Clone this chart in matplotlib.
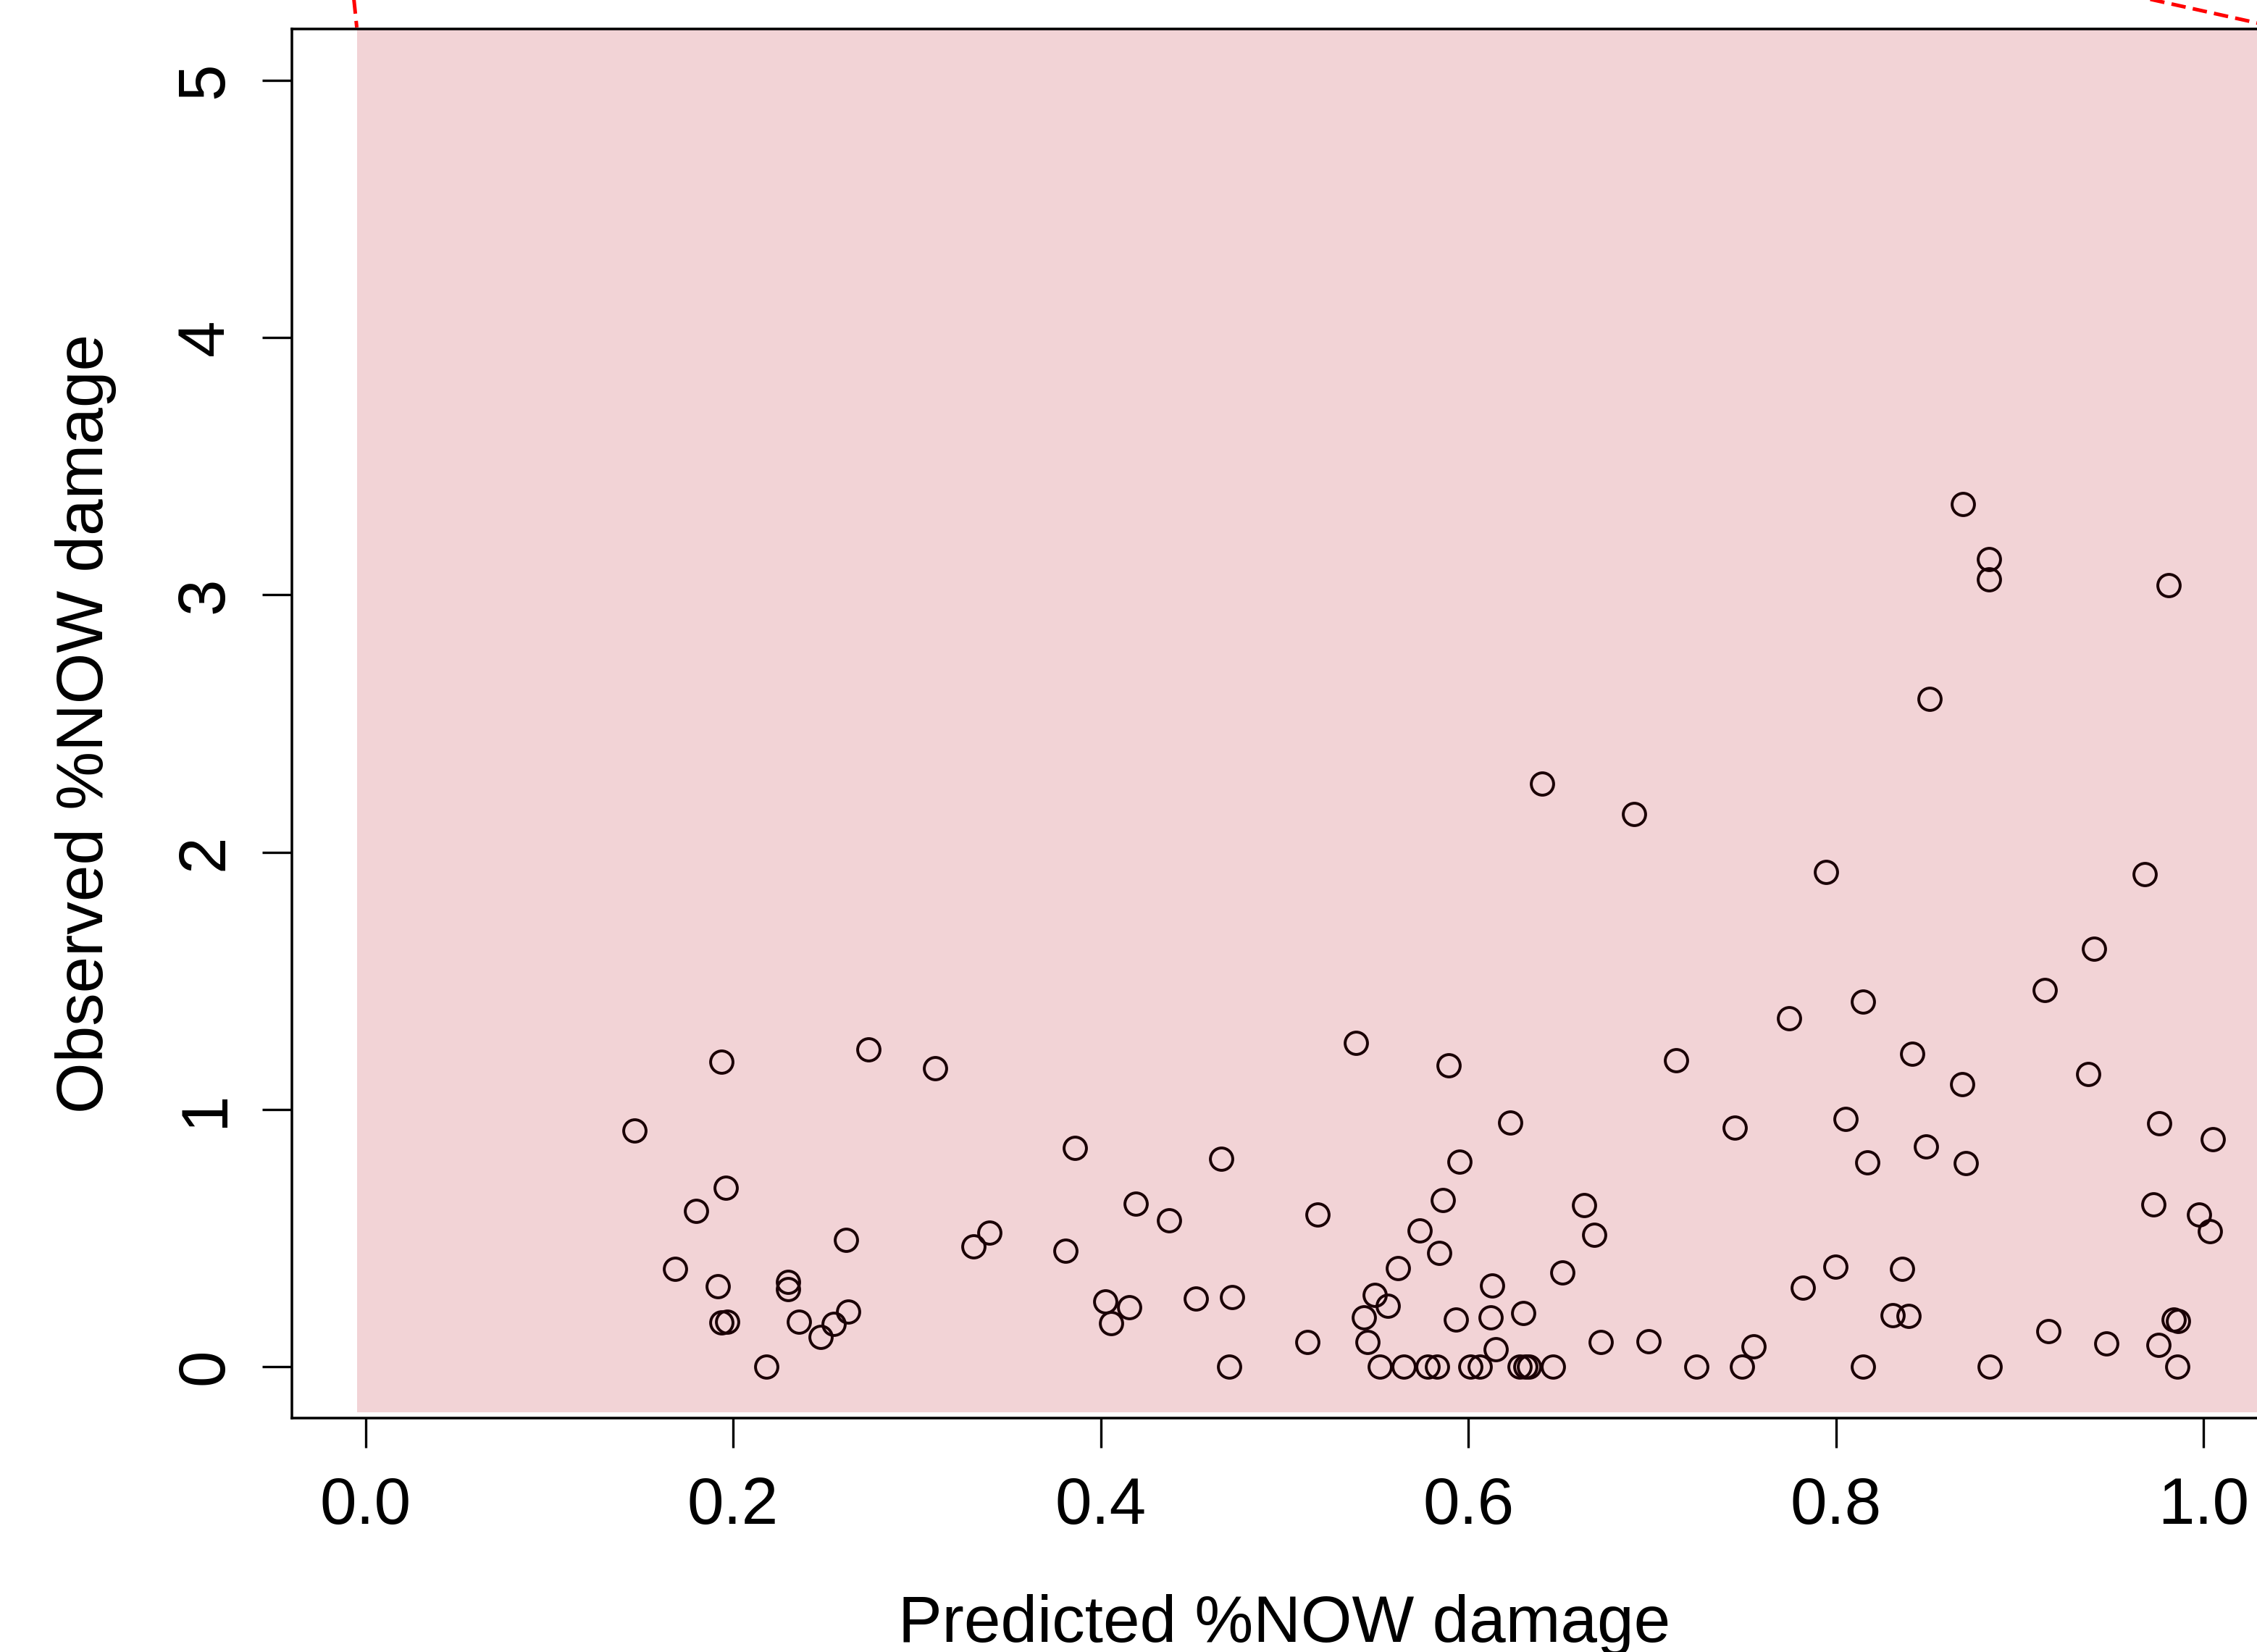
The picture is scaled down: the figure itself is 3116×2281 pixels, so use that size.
import numpy as np
import matplotlib
matplotlib.use("Agg")
import matplotlib.pyplot as plt

plt.rcParams['font.family'] = ['Liberation Sans', 'DejaVu Sans']

# predicted vs observed %NOW damage
pred = [0.1465, 0.1685, 0.180, 0.1917, 0.1937, 0.196, 0.1937, 0.197, 0.218, 0.230,
        0.230, 0.236, 0.2476, 0.2547, 0.2614, 0.2626, 0.2736, 0.3098, 0.3307, 0.3394,
        0.381, 0.386, 0.4024, 0.4055, 0.4154, 0.419, 0.437, 0.4516, 0.4654, 0.4697,
        0.4713, 0.5126, 0.518, 0.539, 0.543, 0.545, 0.549, 0.552, 0.556, 0.5618,
        0.565, 0.5736, 0.578, 0.583, 0.5843, 0.586, 0.5894, 0.593, 0.595, 0.601,
        0.606, 0.612, 0.613, 0.615, 0.6228, 0.628, 0.630, 0.631, 0.633, 0.640,
        0.646, 0.651, 0.663, 0.6685, 0.672, 0.690, 0.698, 0.713, 0.724, 0.745,
        0.749, 0.755, 0.7745, 0.782, 0.7945, 0.7996, 0.805, 0.8146, 0.8146, 0.817,
        0.8307, 0.836, 0.8394, 0.8413, 0.849, 0.851, 0.8685, 0.869, 0.8705, 0.883,
        0.883, 0.8835, 0.9134, 0.9154, 0.937, 0.9405, 0.9469, 0.9677, 0.9728, 0.9752,
        0.9756, 0.981, 0.9835, 0.9862, 0.9858, 0.9976, 1.0032, 1.005]
obs = [0.919, 0.380, 0.606, 0.313, 1.186, 0.694, 0.172, 0.174, 0.0, 0.330,
       0.302, 0.175, 0.116, 0.166, 0.493, 0.214, 1.232, 1.161, 0.468, 0.521,
       0.451, 0.851, 0.254, 0.169, 0.231, 0.632, 0.569, 0.265, 0.809, 0.0,
       0.271, 0.096, 0.591, 1.257, 0.192, 0.096, 0.279, 0.0, 0.237, 0.383,
       0.0, 0.530, 0.0, 0.0, 0.443, 0.648, 1.170, 0.183, 0.797, 0.0,
       0.0, 0.192, 0.316, 0.068, 0.950, 0.0, 0.209, 0.0, 0.0, 2.265,
       0.0, 0.366, 0.628, 0.513, 0.096, 2.147, 0.099, 1.192, 0.0, 0.930,
       0.0, 0.079, 1.355, 0.307, 1.922, 0.389, 0.964, 1.420, 0.0, 0.795,
       0.200, 0.380, 0.197, 1.215, 0.857, 2.595, 1.099, 3.352, 0.792, 3.139,
       3.061, 0.0, 1.463, 0.138, 1.136, 1.623, 0.090, 1.914, 0.631, 0.085,
       0.947, 3.038, 0.183, 0.178, 0.0, 0.592, 0.527, 0.885]

# shaded interval and the bits of its dashed bounds that show above the box
band_x = [-0.0047, 1.10]
band_lo = [-0.178, -0.178]
band_hi = [6.0, 6.0]
upper_left_x = [-0.0075, -0.0047]
upper_left_y = [5.40, 5.206]
upper_right_x = [0.9693, 1.0394]
upper_right_y = [5.318, 5.207]

W, H = 3116, 2281
fig = plt.figure(figsize=(W / 300, H / 300), dpi=300)
ax = fig.add_axes([403 / W, (H - 1958) / H, (3144 - 403) / W, (1958 - 40) / H])

ax.fill_between(band_x, band_lo, band_hi, color='#F2D3D6', lw=0, zorder=1)
ax.plot(upper_left_x, upper_left_y, color='red', lw=1.2, ls=(0, (4, 2)), clip_on=False, zorder=3)
ax.plot(upper_right_x, upper_right_y, color='red', lw=1.2, ls=(0, (4, 2)), clip_on=False, zorder=3)

ax.plot(pred, obs, 'o', ms=7.4, mfc='none', mec='#1a0005', mew=0.95, zorder=4)

ax.set_xlim(-0.04, 1.04)
ax.set_ylim(-0.2, 5.2)
ax.set_xticks([0.0, 0.2, 0.4, 0.6, 0.8, 1.0])
ax.set_xticklabels(['0.0', '0.2', '0.4', '0.6', '0.8', '1.0'])
ax.set_yticks([0, 1, 2, 3, 4, 5])

for s in ax.spines.values():
    s.set_linewidth(0.85)
    s.set_zorder(5)

ax.tick_params(axis='both', length=9.8, width=0.8, labelsize=21.8, direction='out')
ax.tick_params(axis='x', pad=9.5)
ax.tick_params(axis='y', pad=8.5, labelrotation=90)
for t in ax.get_yticklabels():
    t.set_verticalalignment('center')

ax.set_xlabel('Predicted %NOW damage', fontsize=21.8)
ax.set_ylabel('Observed %NOW damage', fontsize=21.8)
ax.xaxis.set_label_coords(0.5, -0.1267)
ax.yaxis.set_label_coords(-0.0883, 0.5)

fig.savefig('out.png', dpi=300)
